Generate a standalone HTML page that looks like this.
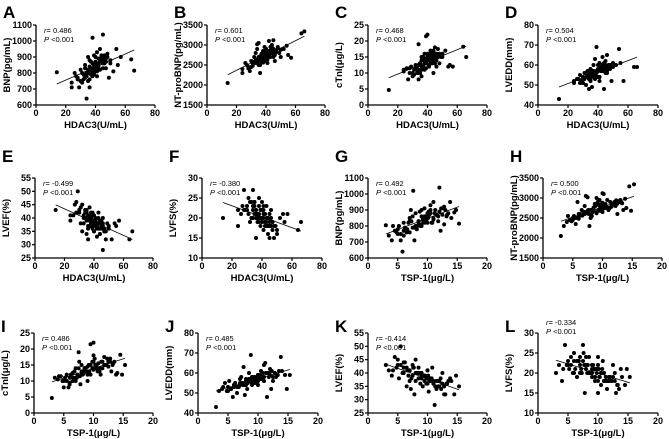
<!DOCTYPE html>
<html><head><meta charset="utf-8"><style>
html,body{margin:0;padding:0;background:#fff}
svg{display:block;font-family:"Liberation Sans",Arial,sans-serif}
</style></head><body>
<svg id="c" width="669" height="439" viewBox="0 0 669 439"></svg>
<script>
const hdac3=[14,66,64,24,24,27,28,29,30,31,32,33,34,34,35,35,36,36,37,37,38,38,39,39,40,40,41,41,42,42,43,43,44,44,45,45,46,46,47,48,49,50,52,54,55,57,26,30,33,35,38,40,42,44,36,39,41,45,32,47,
36,38,40,42,44,46,34,37,39,43,41,35,48,50,31,33,37,45,43,39,46,40,28,36,42,47,38,44,41,34];
const tsp1=[3.0,15.3,14.5,3.5,4.0,5.0,4.5,5.5,6.0,5.2,6.5,7.0,5.8,7.5,7.2,6.8,8.0,7.8,8.5,6.2,9.0,7.6,9.5,8.8,10.0,9.2,10.5,8.2,10.2,9.8,11.0,10.8,11.5,9.0,12.0,10.0,11.2,12.5,11.8,13.0,12.2,13.5,12.8,13.8,14.0,14.8,4.2,5.0,6.0,8.5,7.0,9.5,11.0,10.5,9.0,10.0,7.5,11.5,8.0,12.0,
7.0,8.0,8.5,9.5,10.0,10.5,6.5,9.5,11.0,12.5,9.0,5.5,12.8,13.2,6.0,7.3,10.3,9.3,8.7,7.7,11.8,11.3,4.8,9.8,10.7,13.3,6.6,12.3,10.1,8.3];
const bnp=[805,815,885,740,710,780,770,710,820,800,760,850,640,790,900,820,880,710,830,790,860,1020,910,800,870,840,930,780,890,850,950,820,870,900,1040,860,880,910,830,900,770,880,810,950,850,900,800,750,770,810,830,850,840,880,800,820,860,870,790,890,
760,800,830,860,880,900,780,820,850,870,810,750,920,860,740,830,870,830,890,790,860,900,760,840,820,870,780,910,850,800];
const ntprobnp=[2050,3340,3290,2300,2400,2500,2450,2350,2600,2550,2700,2800,2900,3020,3050,2650,2500,2300,2750,2600,2850,2700,2950,2800,2650,2900,2750,2550,3100,2850,2700,2950,2800,3000,2900,3120,2750,2600,2850,2950,2800,2700,2900,2980,2750,2680,2550,2450,2550,2700,2650,2800,2750,2850,2620,2720,2680,2780,2580,2830,
2600,2700,2760,2820,2880,2800,2560,2680,2740,2860,2640,2500,2920,2880,2480,2620,2780,2700,2850,2600,2830,2900,2420,2720,2780,2870,2560,2940,2790,2640];
const ctni=[4.7,15,18.2,11,10.5,8,11.5,12,9,11,12.5,10,8,19,11,13,15,9,14,12,14.5,16,21.5,13,22,15,14,12,17,16,13,15.5,14,10,15,18,12,16,17.5,13,15,16,17,12,12.5,12,11.5,10,11,13,14,15,14,15,12,13.5,14,16,12,15,
11,13,14,15,16,14,10,12,13,14.5,12.5,10,16,15,9.5,12,15,13,14,11.5,15,16,10,14,13,15.5,11,17,14,12.5];
const lvedd=[43,59,59,51,52,53,55,52,54,56,50,57,48,55,58,53,57,49,60,55,56,63,57,69,54,58,61,52,59,57,64,60,48,58,62,59,65,56,60,58,52,61,60,68,61,52,53,51,54,56,55,57,58,59,55,56,54,60,54,59,
54,56,57,58,59,57,53,55,56,58,54,52,60,59,53,55,57,56,57,54,58,60,51,56,57,59,53,61,58,55];
const lvef=[43,35,32,41,39,45,46,50,42,38,35,41,40,43,34,39,37,32,40,44,38,42,39,36,41,35,37,40,33,38,36,42,34,39,37,36,28,40,35,32,38,37,32,38,37,39,41,43,40,42,37,39,36,38,40,41,39,37,45,35,
41,40,38,37,36,38,42,39,37,36,40,43,35,36,44,38,37,39,40,42,37,35,42,36,38,36,41,34,39,40];
const lvfs=[20,19,17,22,18,23,27,22,23,21,19,24,20,27,21,23,22,15,20,21,19,25,18,20,24,22,17,20,19,21,18,23,16,20,19,15,18,22,19,15,18,16,20,21,19,21,21,22,20,24,20,19,18,20,21,22,23,18,24,19,
22,21,20,19,18,20,23,21,20,19,22,24,18,17,25,20,19,21,20,22,18,19,22,20,21,17,23,18,21,22];
const panelLetters=["A","B","C","D","E","F","G","H","I","J","K","L"];
const rLabels=["0.486","0.601","0.468","0.504","-0.499","-0.380","0.492","0.500","0.486","0.485","-0.414","-0.334"];
const xTicksH=[0,20,40,60,80];
const xTicksT=[0,5,10,15,20];
const yTicksBNP=[600,700,800,900,1000,1100];
const yTicksNT=[1500,2000,2500,3000,3500];
const yTicksCT=[0,5,10,15,20,25];
const yTicksLVEDD=[40,50,60,70,80];
const yTicksLVEF=[25,30,35,40,45,50,55];
const yTicksLVFS=[10,15,20,25,30];

const NS="http://www.w3.org/2000/svg";
const svg=document.getElementById('c');
function mk(tag,attrs,parent){const e=document.createElementNS(NS,tag);for(const k in attrs)e.setAttribute(k,attrs[k]);(parent||svg).appendChild(e);return e;}

const ys={bnp:[bnp,yTicksBNP,"BNP(pg/mL)"],nt:[ntprobnp,yTicksNT,"NT-proBNP(pg/mL)"],ct:[ctni,yTicksCT,"cTnI(μg/L)"],lvedd:[lvedd,yTicksLVEDD,"LVEDD(mm)"],lvef:[lvef,yTicksLVEF,"LVEF(%)"],lvfs:[lvfs,yTicksLVFS,"LVFS(%)"]};
const order=["bnp","nt","ct","lvedd","lvef","lvfs","bnp","nt","ct","lvedd","lvef","lvfs"];
const layout=[[36,155,25,105],[207,325,25,105],[368,487,25,105],[538,658,25,105],
[35,153,178,258],[202,322,178,258],[368,487,178,258],[543,662,178,258],
[34,153,333,413],[198,318,333,413],[368,487,333,413],[538,658,333,413]];
const letterY=[18,162,332];

for(let i=0;i<12;i++){
  const [ax,ex,top,bot]=layout[i];
  const isH=i<6;
  const xs=isH?hdac3:tsp1, xt=isH?xTicksH:xTicksT;
  const [yv,yt,ytitle]=ys[order[i]];
  const xmin=xt[0],xmax=xt[xt.length-1],ymin=yt[0],ymax=yt[yt.length-1];
  const X=v=>ax+(v-xmin)/(xmax-xmin)*(ex-ax);
  const Y=v=>bot-(v-ymin)/(ymax-ymin)*(bot-top);
  const g=mk('g',{});
  
  
  const L=mk('text',{x:ax-33,y:letterY[Math.floor(i/4)],'font-size':17,'font-weight':'bold'},g);L.textContent=panelLetters[i];
  
  mk('line',{x1:ax,y1:top,x2:ax,y2:bot,stroke:'#000','stroke-width':1.3},g);
  mk('line',{x1:ax,y1:bot,x2:ex,y2:bot,stroke:'#000','stroke-width':1.3},g);
  yt.forEach(v=>{const y=Y(v);mk('line',{x1:ax-3,y1:y,x2:ax,y2:y,stroke:'#000','stroke-width':1.2},g);
    const t=mk('text',{x:ax-4,y:y+3,'font-size':9,'font-weight':'bold','text-anchor':'end'},g);t.textContent=v;
    });
  xt.forEach(v=>{const x=X(v);mk('line',{x1:x,y1:bot,x2:x,y2:bot+3,stroke:'#000','stroke-width':1.2},g);
    const t=mk('text',{x:x,y:bot+11,'font-size':9,'font-weight':'bold','text-anchor':'middle'},g);t.textContent=v;
    });
  const xtl=mk('text',{x:(ax+ex)/2,y:bot+23,'font-size':9.5,'font-weight':'bold','text-anchor':'middle'},g);
  xtl.textContent=isH?"HDAC3(U/mL)":"TSP-1(μg/L)";
  
  const cy=(top+bot)/2, tx=ax-26;
  const ytl=mk('text',{x:tx,y:cy,'font-size':9.5,'font-weight':'bold','text-anchor':'middle',transform:`rotate(-90 ${tx} ${cy})`},g);
  ytl.textContent=ytitle;
  
  for(let k=0;k<xs.length;k++){
    const c=mk('circle',{cx:X(xs[k]),cy:Y(yv[k]),r:2,fill:'#000'},g);
    
  }
  const n=xs.length;let sx=0,sy=0,sxx=0,sxy=0,mn=1e9,mx=-1e9;
  for(let k=0;k<n;k++){sx+=xs[k];sy+=yv[k];sxx+=xs[k]*xs[k];sxy+=xs[k]*yv[k];mn=Math.min(mn,xs[k]);mx=Math.max(mx,xs[k]);}
  const b=(n*sxy-sx*sy)/(n*sxx-sx*sx),a=(sy-b*sx)/n;
  const rl=mk('line',{x1:X(mn),y1:Y(a+b*mn),x2:X(mx),y2:Y(a+b*mx),stroke:'#000','stroke-width':0.8},g);
  
  const ty=i===11?top-8:top+8;
  const r=mk('text',{x:ax+8,y:ty,'font-size':7.5},g);
  r.innerHTML='<tspan font-style="italic">r</tspan>= '+rLabels[i];
  
  const p=mk('text',{x:ax+8,y:ty+9,'font-size':7.5},g);
  p.innerHTML='<tspan font-style="italic">P</tspan> &lt;0.001';
  
}
</script>
</body></html>
